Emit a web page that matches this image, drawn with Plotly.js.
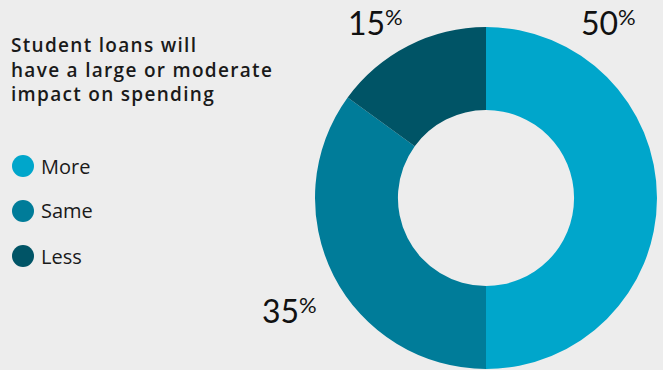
<!DOCTYPE html>
<html><head><meta charset="utf-8">
<script src="https://cdn.plot.ly/plotly-3.0.1.min.js"></script>
<style>
html,body{margin:0;padding:0;background:#ededed;}#chart{width:663px;height:370px;}
.annotation[data-index="0"] text{letter-spacing:1.3px;}
</style>
</head><body><div id="chart"></div>
<script>
const categories = ["More", "Same", "Less"];
const values = [50, 35, 15];
const colors = ["#00a6cb", "#007c99", "#005466"];
const titleText = "Student loans will<br>have a large or moderate<br>impact on spending";

const W = 663, H = 370;
const px = x => x / W;
const py = y => 1 - y / H;

const font = "'Open Sans', sans-serif";
const numFont = "Lato, 'Open Sans', sans-serif";

const trace = {
  type: "pie",
  labels: categories,
  values: values,
  hole: 0.515,
  sort: false,
  direction: "clockwise",
  rotation: 0,
  marker: {colors: colors, line: {width: 0}},
  textinfo: "none",
  hoverinfo: "label+percent",
  showlegend: false,
  domain: {x: [px(315), px(657)], y: [py(369), py(27)]}
};

// label positions: [digits right edge x, digits center y]
const labelPos = [[619, 22], [300, 310], [386, 22]];
const annotations = [];
annotations.push({
  text: titleText, xref: "paper", yref: "paper", x: px(9), y: py(30),
  xanchor: "left", yanchor: "top", align: "left", showarrow: false,
  font: {family: font, size: 19, color: "#1a1a1a", weight: 600}
});
categories.forEach((c, i) => {
  annotations.push({
    text: String(values[i]), xref: "paper", yref: "paper",
    x: px(labelPos[i][0]), y: py(labelPos[i][1]), xanchor: "right", yanchor: "middle",
    showarrow: false, borderpad: 0, font: {family: numFont, size: 32, color: "#111"}
  });
  annotations.push({
    text: "%", xref: "paper", yref: "paper",
    x: px(labelPos[i][0] - 2), y: py(labelPos[i][1] - 20), xanchor: "left", yanchor: "top",
    showarrow: false, borderpad: 0, font: {family: numFont, size: 22, color: "#111"}
  });
  const cy = 166 + i * 45;
  annotations.push({
    text: c, xref: "paper", yref: "paper", x: px(39), y: py(cy),
    xanchor: "left", yanchor: "middle", showarrow: false,
    font: {family: font, size: 20, color: "#1a1a1a"}
  });
});
const shapes = categories.map((c, i) => {
  const cy = 166 + i * 45;
  return {type: "circle", xref: "paper", yref: "paper",
    x0: px(12), x1: px(34), y0: py(cy + 11), y1: py(cy - 11),
    fillcolor: colors[i], line: {width: 0}};
});

Plotly.newPlot("chart", [trace], {
  width: W, height: H,
  margin: {l: 0, r: 0, t: 0, b: 0},
  paper_bgcolor: "#ededed", plot_bgcolor: "#ededed",
  annotations: annotations, shapes: shapes, showlegend: false
}, {displayModeBar: false, staticPlot: true});
</script></body></html>
